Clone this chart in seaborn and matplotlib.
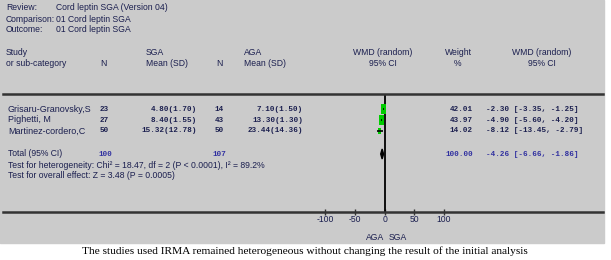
import matplotlib
matplotlib.use("Agg")
import matplotlib.pyplot as plt
from matplotlib.patches import Rectangle
import pandas as pd
import seaborn as sns

# ---- data ----
review = "Cord leptin SGA (Version 04)"
comparison = "01 Cord leptin SGA"
outcome = "01 Cord leptin SGA"

studies = ["Grisaru-Granovsky,S", "Pighetti, M", "Martinez-cordero,C"]
sga_n = [23, 27, 50]
sga_mean = [4.80, 8.40, 15.32]
sga_sd = [1.70, 1.55, 12.78]
aga_n = [14, 43, 50]
aga_mean = [7.10, 13.30, 23.44]
aga_sd = [1.50, 1.30, 14.36]
weights = [42.01, 43.97, 14.02]
wmd = [-2.30, -4.90, -8.12]
ci_lo = [-3.35, -5.60, -13.45]
ci_hi = [-1.25, -4.20, -2.79]

total_sga_n = 100
total_aga_n = 107
total_weight = 100.00
total_wmd = -4.26
total_lo = -6.66
total_hi = -1.86

heterogeneity = "Test for heterogeneity: Chi² = 18.47, df = 2 (P < 0.0001), I² = 89.2%"
overall = "Test for overall effect: Z = 3.48 (P = 0.0005)"
ticks = [-100, -50, 0, 50, 100]
caption = ("The studies used IRMA remained heterogeneous without changing "
           "the result of the initial analysis")

# ---- style ----
W, H = 611, 260
sns.set_theme(style="white")
plt.rcParams["font.family"] = ["Liberation Sans", "DejaVu Sans"]
plt.rcParams["axes.unicode_minus"] = False

TXT = "#1b1f4f"
TOT = "#3030a0"
BG = "#cbcbcb"
SANS = 6.2
MONO = dict(family=["Liberation Mono", "DejaVu Sans Mono"], fontsize=5.5,
            weight="bold")

fig = plt.figure(figsize=(W / 100, H / 100), dpi=100)
fig.patches.append(Rectangle((0, 1 - 243 / H), 604 / W, 243 / H,
                             transform=fig.transFigure, color=BG, zorder=-10))


def px(x, y):
    return x / W, 1 - y / H


def put(x, y, s, ha="left", color=TXT, **kw):
    kw.setdefault("fontsize", SANS)
    fig.text(*px(x, y), s, ha=ha, va="center", color=color, **kw)


# header block
for i, (lab, val) in enumerate([("Review:", review), ("Comparison:", comparison),
                                ("Outcome:", outcome)]):
    put(6, 8 + 11 * i, lab)
    put(56, 8 + 11 * i, val)

put(6, 53, "Study")
put(6, 64, "or sub-category")
put(103, 64, "N", ha="center")
put(146, 53, "SGA")
put(146, 64, "Mean (SD)")
put(219, 64, "N", ha="center")
put(244, 53, "AGA")
put(244, 64, "Mean (SD)")
put(383, 53, "WMD (random)", ha="center")
put(383, 64, "95% CI", ha="center")
put(458, 53, "Weight", ha="center")
put(458, 64, "%", ha="center")
put(542, 53, "WMD (random)", ha="center")
put(542, 64, "95% CI", ha="center")

# study rows
row_y = [109 + 11 * i for i in range(len(studies))]
for i, y in enumerate(row_y):
    put(8, y, studies[i], fontsize=6.5)
    put(104, y, f"{sga_n[i]}", ha="center", **MONO)
    put(197, y, f"{sga_mean[i]:.2f}({sga_sd[i]:.2f})", ha="right", **MONO)
    put(219, y, f"{aga_n[i]}", ha="center", **MONO)
    put(303, y, f"{aga_mean[i]:.2f}({aga_sd[i]:.2f})", ha="right", **MONO)
    put(473, y, f"{weights[i]:.2f}", ha="right", **MONO)
    put(486, y, f"{wmd[i]:.2f} [{ci_lo[i]:.2f}, {ci_hi[i]:.2f}]", **MONO)

total_y = 154
put(8, total_y, "Total (95% CI)")
put(105, total_y, f"{total_sga_n}", ha="center", color=TOT, **MONO)
put(219, total_y, f"{total_aga_n}", ha="center", color=TOT, **MONO)
put(473, total_y, f"{total_weight:.2f}", ha="right", color=TOT, **MONO)
put(486, total_y, f"{total_wmd:.2f} [{total_lo:.2f}, {total_hi:.2f}]",
    color=TOT, **MONO)
put(8, 165, heterogeneity)
put(8, 176, overall)

# ---- forest axes ----
ax = fig.add_axes([3 / W, 1 - 212 / H, 600 / W, (212 - 94) / H])
ax.set_facecolor("none")
ax.set_xlim(-645, 369)
ax.set_ylim(212, 94)

df = pd.DataFrame({"wmd": wmd, "lo": ci_lo, "hi": ci_hi, "w": weights, "y": row_y})
ax.axvline(0, color="black", lw=1.3, zorder=2)
rect = [(-0.55, -1), (0.55, -1), (0.55, 1), (-0.55, 1)]
sns.scatterplot(data=df, x="wmd", y="y", size="w", sizes=(16, 48),
                marker=rect, color="#00cc00", edgecolor="#00cc00",
                linewidth=0, legend=False, ax=ax, zorder=3)
ax.hlines(df["y"], df["lo"], df["hi"], color="black", lw=1.2, zorder=4)
ax.fill([total_lo, total_wmd, total_hi, total_wmd],
        [total_y, total_y - 5, total_y, total_y + 5], color="black", zorder=4)

for side in ["left", "right"]:
    ax.spines[side].set_visible(False)
for side in ["top", "bottom"]:
    ax.spines[side].set_color("#333333")
    ax.spines[side].set_linewidth(1.8)
ax.set_yticks([])
ax.set_xticks(ticks)
ax.set_xticklabels([str(t) for t in ticks], fontsize=SANS, color=TXT)
ax.tick_params(axis="x", direction="inout", length=5, width=1, pad=-0.3,
               colors="#333333", labelcolor=TXT, bottom=True)
ax.set_xlabel("")
ax.set_ylabel("")
ax.grid(False)

put(375, 237, "AGA", ha="center")
put(398, 237, "SGA", ha="center")

fig.text(*px(305, 251), caption, ha="center", va="center", fontsize=8.2,
         family=["Liberation Serif", "DejaVu Serif"], color="black")

fig.savefig("out.png", dpi=100)
